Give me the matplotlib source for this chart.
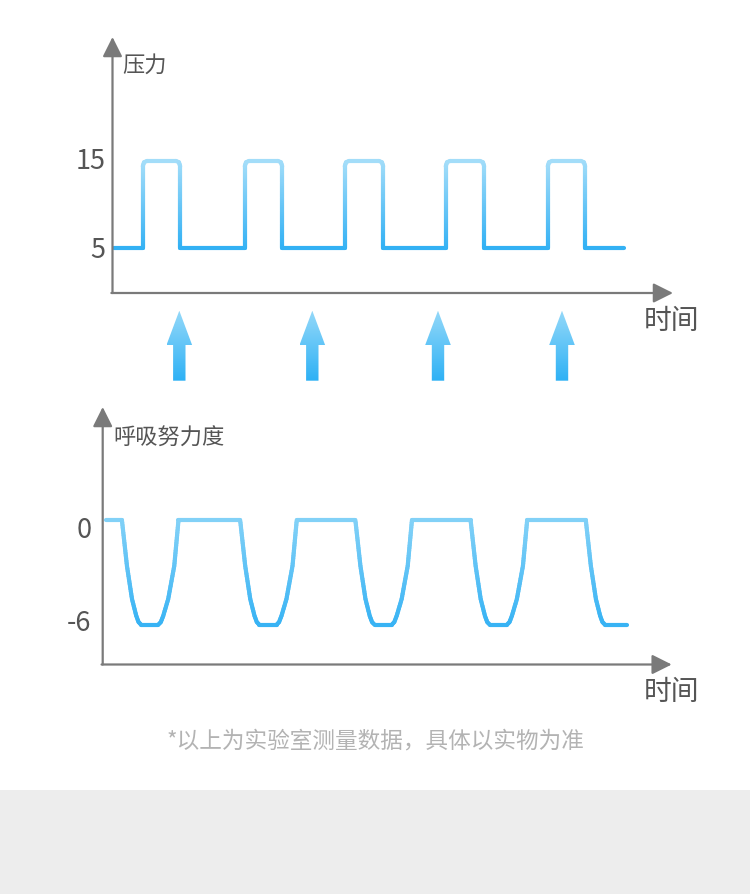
import numpy as np
import matplotlib
matplotlib.use('Agg')
import matplotlib.pyplot as plt
import matplotlib.transforms as mtransforms
from matplotlib.collections import LineCollection
from matplotlib.colors import LinearSegmentedColormap, Normalize
from matplotlib.patches import Polygon, Rectangle

plt.rcParams['font.family'] = ['Noto Sans CJK SC', 'DejaVu Sans']

# --- data (time in arbitrary units) ---
# pressure: square pulses between 5 and 15, with slightly rounded tops
press_start, press_end = 0.01, 5.06
press_low, press_high = 5, 15
rise_t = [0.30, 1.31, 2.30, 3.30, 4.31]
fall_t = [0.67, 1.68, 2.68, 3.68, 4.68]
corner_dt = [0, 0.012, 0.04]
corner_v = [14.4, 14.85, 15]
press_ticks = [5, 15]

# breathing effort: dips from 0 down to -6
effort_start, effort_end = 0.03, 5.19
dip_start = [0.19, 1.36, 2.50, 3.64, 4.78]
dip_dt = [0, 0.05, 0.10, 0.142, 0.165, 0.19, 0.36, 0.385, 0.409, 0.458, 0.518, 0.56]
dip_v = [0, -2.63, -4.53, -5.49, -5.85, -6, -6, -5.85, -5.49, -4.53, -2.63, 0]
effort_ticks = [-6, 0]

note = '*以上为实验室测量数据，具体以实物为准'

# build the two series
press_t, press_v = [press_start], [press_low]
for r, f in zip(rise_t, fall_t):
    press_t += [r] + [r + d for d in corner_dt] + [f - d for d in corner_dt[::-1]] + [f]
    press_v += [press_low] + corner_v + corner_v[::-1] + [press_low]
press_t.append(press_end)
press_v.append(press_low)

effort_t, effort_v = [effort_start], [0]
for k, s in enumerate(dip_start):
    n = len(dip_dt) if k < len(dip_start) - 1 else 6  # last dip is cut off
    effort_t += [s + d for d in dip_dt[:n]]
    effort_v += dip_v[:n]
effort_t.append(effort_end)
effort_v.append(-6)

W, H = 750, 895
AXIS = '#7a7a7a'
TXT = '#555555'


def fig_box(left, top, right, bottom):
    # pixel box -> figure fraction
    return [left / W, 1 - bottom / H, (right - left) / W, (bottom - top) / H]


def grad_line(ax, t, v, v_lo, v_hi, c_lo, c_hi):
    cmap = LinearSegmentedColormap.from_list('g', [c_lo, c_hi])
    norm = Normalize(v_lo, v_hi)
    segs, cols = [], []
    for i in range(len(t) - 1):
        n = int(abs(v[i + 1] - v[i]) / (v_hi - v_lo) * 40) + 2
        tt = np.linspace(t[i], t[i + 1], n)
        vv = np.linspace(v[i], v[i + 1], n)
        for j in range(n - 1):
            segs.append([(tt[j], vv[j]), (tt[j + 1], vv[j + 1])])
            cols.append(cmap(norm((vv[j] + vv[j + 1]) / 2)))
    lc = LineCollection(segs, colors=cols, linewidths=3, capstyle='round', joinstyle='round')
    ax.add_collection(lc)


def axis_arrows(ax):
    for s in ax.spines.values():
        s.set_visible(False)
    props = dict(arrowstyle='-|>,head_length=0.6,head_width=0.3', color=AXIS, lw=1.6,
                 shrinkA=0, shrinkB=0, mutation_scale=20)
    ax.annotate('', xy=(0, 1), xytext=(0, 0), xycoords='axes fraction',
                textcoords='axes fraction', arrowprops=props, annotation_clip=False)
    ax.annotate('', xy=(1, 0), xytext=(-0.002, 0), xycoords='axes fraction',
                textcoords='axes fraction', arrowprops=props, annotation_clip=False)
    ax.set_xticks([])
    ax.set_facecolor('none')


def nudge_labels(ax, fig, shifts_px):
    # small vertical shifts of tick labels, in pixels (positive = down)
    for lab, dy in zip(ax.get_yticklabels(), shifts_px):
        off = mtransforms.ScaledTranslation(0, -dy / 100, fig.dpi_scale_trans)
        lab.set_transform(lab.get_transform() + off)


fig = plt.figure(figsize=(W / 100, H / 100), dpi=100)

# overlay in pixel coordinates for background, arrows and text
bg = fig.add_axes([0, 0, 1, 1], zorder=0)
bg.set_xlim(0, W)
bg.set_ylim(H, 0)
bg.axis('off')
bg.add_patch(Rectangle((0, 791), W, H - 791, color='#ededed', lw=0))

# top chart
ax1 = fig.add_axes(fig_box(112.5, 38, 673, 294), zorder=2)
axis_arrows(ax1)
grad_line(ax1, press_t, press_v, press_low, press_high, '#33b1f4', '#a3ddf9')
ax1.set_xlim(0, 5.55)
ax1.set_ylim(-0.12, 29.2)
ax1.set_yticks(press_ticks)
ax1.set_yticklabels([str(v) for v in press_ticks])
ax1.tick_params(axis='y', length=0, pad=5, labelsize=19.5, labelcolor=TXT)
nudge_labels(ax1, fig, [-2, -3])

# bottom chart
ax2 = fig.add_axes(fig_box(102.7, 408, 671.7, 665.5), zorder=2)
axis_arrows(ax2)
grad_line(ax2, effort_t, effort_v, -6, 0, '#38b3f4', '#82d1f7')
ax2.set_xlim(0, 5.63)
ax2.set_ylim(-8.28, 6.48)
ax2.set_yticks(effort_ticks)
ax2.set_yticklabels([str(v) for v in effort_ticks])
ax2.tick_params(axis='y', length=0, pad=8, labelsize=19.5, labelcolor=TXT)
nudge_labels(ax2, fig, [-5, 6])

# trigger arrows between the charts
acmap = LinearSegmentedColormap.from_list('a', ['#93d8f9', '#2eb1f5'])
grad = np.linspace(0, 1, 100).reshape(-1, 1)
for cx in [179.3, 312.3, 438, 562]:
    tip, base, foot, hw, sw = 311.7, 346, 381.7, 12.8, 6.2
    poly = Polygon([(cx, tip), (cx + hw, base), (cx + sw, base), (cx + sw, foot),
                    (cx - sw, foot), (cx - sw, base), (cx - hw, base)],
                   closed=True, fc='none', ec='none')
    bg.add_patch(poly)
    im = bg.imshow(grad, cmap=acmap, extent=(cx - hw, cx + hw, foot, tip),
                   aspect='auto', origin='upper')
    im.set_clip_path(poly)
bg.set_xlim(0, W)
bg.set_ylim(H, 0)

# labels
bg.text(122, 65, '压力', fontsize=16, color=TXT, va='center', ha='left')
bg.text(113, 438, '呼吸努力度', fontsize=16, color=TXT, va='center', ha='left')
bg.text(644, 321, '时间', fontsize=20, color=TXT, va='center', ha='left')
bg.text(644, 692, '时间', fontsize=20, color=TXT, va='center', ha='left')
bg.text(375, 741, note, fontsize=16.3, color='#b3b3b3', va='center', ha='center')

fig.savefig('out.png', dpi=100, facecolor='white')
